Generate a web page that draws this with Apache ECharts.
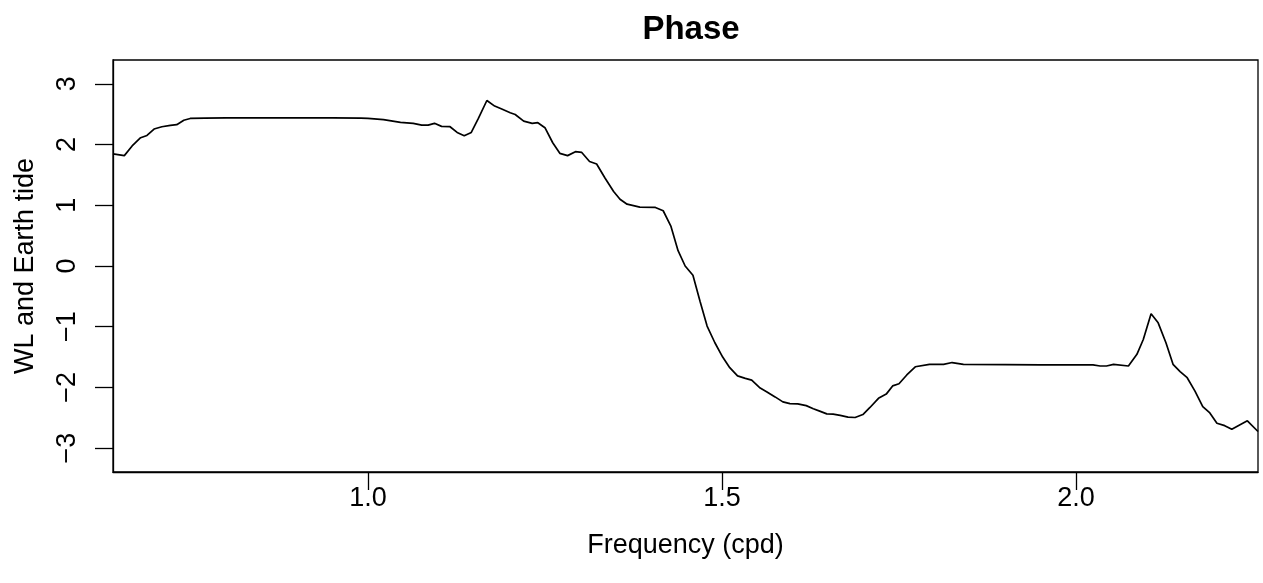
<!DOCTYPE html>
<html>
<head>
<meta charset="utf-8">
<title>Phase</title>
<script src="https://cdn.jsdelivr.net/npm/echarts@6/dist/echarts.min.js"></script>
<style>
  html, body { margin: 0; padding: 0; background: #fff; }
  #chart { width: 1263px; height: 583px; }
</style>
</head>
<body>
<div id="chart"></div>
<script>
// Frequency (cycles per day)
const freq = [
  0.640, 0.656, 0.667, 0.679, 0.688, 0.698, 0.709, 0.721, 0.730, 0.740,
  0.749, 0.770, 0.800, 0.850, 0.900, 0.950, 0.990, 1.000, 1.022, 1.046,
  1.064, 1.076, 1.085, 1.094, 1.104, 1.116, 1.126, 1.136, 1.146, 1.156,
  1.168, 1.179, 1.189, 1.201, 1.208, 1.220, 1.232, 1.240, 1.250, 1.261,
  1.271, 1.282, 1.293, 1.302, 1.313, 1.323, 1.335, 1.347, 1.356, 1.366,
  1.384, 1.406, 1.417, 1.428, 1.438, 1.448, 1.459, 1.469, 1.479, 1.490,
  1.501, 1.511, 1.522, 1.533, 1.542, 1.554, 1.563, 1.575, 1.586, 1.596,
  1.607, 1.619, 1.629, 1.638, 1.648, 1.657, 1.667, 1.678, 1.688, 1.699,
  1.709, 1.721, 1.732, 1.741, 1.750, 1.761, 1.773, 1.793, 1.813, 1.825,
  1.841, 1.900, 1.950, 2.000, 2.024, 2.034, 2.043, 2.053, 2.074, 2.086,
  2.095, 2.106, 2.116, 2.127, 2.137, 2.147, 2.157, 2.168, 2.179, 2.189,
  2.199, 2.210, 2.220, 2.231, 2.242, 2.257
];

// Phase between water level and Earth tide (radians)
const phase = [
  1.846, 1.818, 1.977, 2.113, 2.150, 2.256, 2.294, 2.316, 2.327, 2.400,
  2.430, 2.435, 2.440, 2.440, 2.440, 2.440, 2.435, 2.430, 2.410, 2.365,
  2.350, 2.320, 2.320, 2.350, 2.300, 2.294, 2.200, 2.146, 2.200, 2.430,
  2.726, 2.634, 2.585, 2.524, 2.496, 2.387, 2.350, 2.360, 2.278, 2.030,
  1.856, 1.818, 1.883, 1.870, 1.720, 1.680, 1.445, 1.227, 1.100, 1.018,
  0.969, 0.964, 0.910, 0.652, 0.253, 0.000, -0.153, -0.580, -0.990, -1.264,
  -1.500, -1.675, -1.810, -1.850, -1.880, -2.010, -2.070, -2.156, -2.238, -2.266,
  -2.270, -2.300, -2.350, -2.390, -2.435, -2.440, -2.460, -2.490, -2.495, -2.447,
  -2.330, -2.180, -2.110, -1.975, -1.940, -1.795, -1.660, -1.620, -1.620, -1.590,
  -1.620, -1.625, -1.630, -1.630, -1.630, -1.647, -1.647, -1.620, -1.647, -1.455,
  -1.210, -0.788, -0.936, -1.264, -1.620, -1.740, -1.840, -2.060, -2.315, -2.420,
  -2.590, -2.630, -2.690, -2.620, -2.550, -2.726
];

const xTicks = [1.0, 1.5, 2.0];
const yTicks = [-3, -2, -1, 0, 1, 2, 3];

// y range: [-pi, pi] padded by 4% on each side
const yPad = 0.04 * 2 * Math.PI;

const FONT = '"Liberation Sans", Arial, Helvetica, sans-serif';

const chart = echarts.init(document.getElementById('chart'), null, { renderer: 'canvas' });

chart.setOption({
  animation: false,
  backgroundColor: '#ffffff',
  title: {
    text: 'Phase',
    left: 686,
    top: 8,
    textAlign: 'center',
    textStyle: { fontFamily: FONT, fontSize: 33, fontWeight: 'bold', color: '#000' }
  },
  grid: {
    left: 113, right: 5, top: 60, bottom: 111,
    show: true, borderColor: '#000', borderWidth: 1.3, backgroundColor: 'transparent'
  },
  xAxis: {
    type: 'value',
    min: 0.640,
    max: 2.257,
    name: 'Frequency (cpd)',
    nameLocation: 'middle',
    nameGap: 60,
    nameTextStyle: { fontFamily: FONT, fontSize: 27, color: '#000' },
    axisLine: { show: true, onZero: false, lineStyle: { color: '#000', width: 1.3 } },
    axisTick: { show: true, inside: false, length: 18, customValues: xTicks, lineStyle: { color: '#000', width: 1.3 } },
    axisLabel: {
      customValues: xTicks, margin: 13,
      fontFamily: FONT, fontSize: 27, color: '#000',
      formatter: v => v.toFixed(1)
    },
    splitLine: { show: false }
  },
  yAxis: {
    type: 'value',
    min: -Math.PI - yPad,
    max: Math.PI + yPad,
    name: 'WL and Earth tide',
    nameLocation: 'middle',
    nameGap: 74,
    nameRotate: 90,
    nameTextStyle: { fontFamily: FONT, fontSize: 27, color: '#000' },
    axisLine: { show: true, onZero: false, lineStyle: { color: '#000', width: 1.3 } },
    axisTick: { show: true, inside: false, length: 18, customValues: yTicks, lineStyle: { color: '#000', width: 1.3 } },
    axisLabel: {
      customValues: yTicks, rotate: 90, margin: 32,
      fontFamily: FONT, fontSize: 27, color: '#000',
      formatter: v => (v < 0 ? '\u2212' + Math.abs(v) : String(v))
    },
    splitLine: { show: false }
  },
  series: [{
    type: 'line',
    data: freq.map((f, i) => [f, phase[i]]),
    showSymbol: false,
    symbol: 'none',
    clip: true,
    lineStyle: { color: '#000', width: 1.7 }
  }]
});
</script>
</body>
</html>
